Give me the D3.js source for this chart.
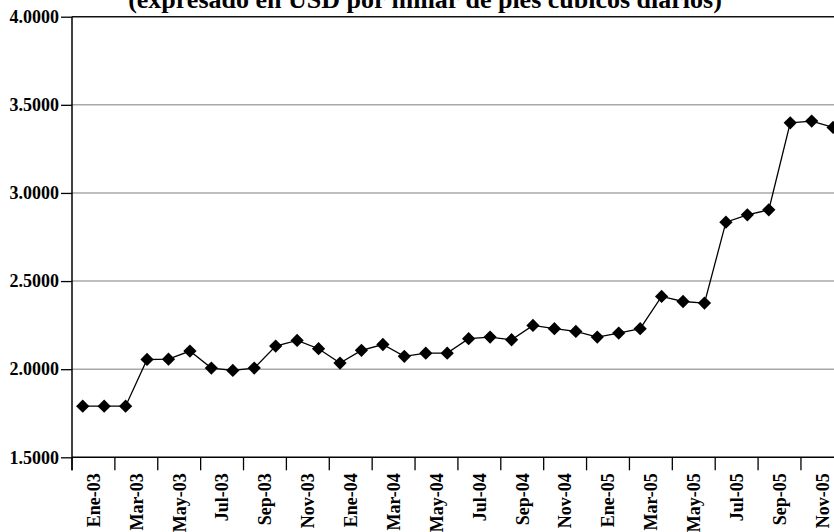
<!DOCTYPE html>
<html>
<head>
<meta charset="utf-8">
<script src="https://cdn.jsdelivr.net/npm/d3@7/dist/d3.min.js"></script>
<style>
  html, body { margin: 0; padding: 0; background: #fff; }
  svg { display: block; }
  text { font-family: "Liberation Serif", "Times New Roman", serif; font-weight: bold; fill: #000; }
</style>
</head>
<body>
<svg id="chart" width="834" height="532"></svg>
<script>
// Precio mensual del gas natural, USD por millar de pies cúbicos diarios
const months = [
  "Ene-03","Feb-03","Mar-03","Abr-03","May-03","Jun-03","Jul-03","Ago-03","Sep-03","Oct-03","Nov-03","Dic-03",
  "Ene-04","Feb-04","Mar-04","Abr-04","May-04","Jun-04","Jul-04","Ago-04","Sep-04","Oct-04","Nov-04","Dic-04",
  "Ene-05","Feb-05","Mar-05","Abr-05","May-05","Jun-05","Jul-05","Ago-05","Sep-05","Oct-05","Nov-05","Dic-05"
];
const prices = [
  1.790, 1.790, 1.790, 2.055, 2.057, 2.103, 2.006, 1.993, 2.006, 2.131, 2.163, 2.116,
  2.035, 2.107, 2.140, 2.073, 2.091, 2.091, 2.173, 2.182, 2.167, 2.248, 2.230, 2.214,
  2.182, 2.205, 2.230, 2.413, 2.384, 2.375, 2.834, 2.876, 2.904, 3.398, 3.408, 3.372
];
const yTicks = [1.5, 2.0, 2.5, 3.0, 3.5, 4.0];
// Every second month carries a label
const xTickLabels = months.filter((m, i) => i % 2 === 0);
const subtitle = "(expresado en USD por millar de pies cúbicos diarios)";

const svg = d3.select("#chart");
const plotLeft = 72, plotTop = 16.7, plotBottom = 457.3, monthStep = 21.44;

const x = d3.scaleBand().domain(months).range([plotLeft, plotLeft + monthStep * months.length]).padding(0);
const xGroup = d3.scaleBand().domain(xTickLabels).range([plotLeft, plotLeft + monthStep * months.length]).padding(0);
const y = d3.scaleLinear().domain([1.5, 4.0]).range([plotBottom, plotTop]);

// Subtitle (only its lower part falls inside the view)
svg.append("text")
  .attr("x", 425).attr("y", 8)
  .attr("text-anchor", "middle")
  .style("font-size", "26px")
  .text(subtitle);

// Horizontal gridlines
svg.append("g").selectAll("line")
  .data(yTicks.filter(v => v > 1.5 && v < 4.0))
  .join("line")
  .attr("x1", plotLeft).attr("x2", 834)
  .attr("y1", d => y(d)).attr("y2", d => y(d))
  .attr("stroke", "#a8a8a8").attr("stroke-width", 1.5);

// Top border of the plot area
svg.append("line")
  .attr("x1", plotLeft).attr("x2", 834)
  .attr("y1", y(4.0)).attr("y2", y(4.0))
  .attr("stroke", "#111").attr("stroke-width", 1.5);

// Y axis
const yAxis = d3.axisLeft(y).tickValues(yTicks).tickFormat(d3.format(".4f")).tickSize(11).tickPadding(2);
const gy = svg.append("g").attr("transform", `translate(${plotLeft},0)`).call(yAxis);
gy.select(".domain").attr("stroke", "#000").attr("stroke-width", 1.5).attr("d", `M0,${plotTop}V${plotBottom + 13}`);
gy.selectAll(".tick line").attr("stroke", "#000").attr("stroke-width", 1.3);
gy.selectAll(".tick text").style("font-size", "18px").style("font-family", '"Liberation Serif", serif').style("font-weight", "bold");

// X axis: tick marks between each pair of months, labels centred on each pair
const gx = svg.append("g").attr("transform", `translate(0,${plotBottom})`);
gx.append("line").attr("x1", plotLeft).attr("x2", 834).attr("y1", 0).attr("y2", 0)
  .attr("stroke", "#000").attr("stroke-width", 1.5);
gx.selectAll("line.tk")
  .data(xTickLabels.concat(["__end"]))
  .join("line").attr("class", "tk")
  .attr("x1", (d, i) => plotLeft + i * xGroup.bandwidth())
  .attr("x2", (d, i) => plotLeft + i * xGroup.bandwidth())
  .attr("y1", 0).attr("y2", 13)
  .attr("stroke", "#000").attr("stroke-width", 1.3);
const xAxis = d3.axisBottom(xGroup).tickSize(0).tickPadding(0);
const gxl = gx.append("g").call(xAxis);
gxl.select(".domain").remove();
gxl.selectAll(".tick text")
  .attr("transform", "rotate(-90)")
  .attr("x", -16).attr("y", 0).attr("dy", "0.35em")
  .attr("text-anchor", "end")
  .style("font-size", "18px").style("font-family", '"Liberation Serif", serif').style("font-weight", "bold");

// Price line
const line = d3.line()
  .x((d, i) => x(months[i]) + x.bandwidth() / 2)
  .y(d => y(d));
svg.append("path").datum(prices)
  .attr("d", line)
  .attr("fill", "none").attr("stroke", "#000").attr("stroke-width", 1.3);

// Diamond markers
const sym = d3.symbol().type(d3.symbolSquare).size(88);
svg.append("g").selectAll("path")
  .data(prices)
  .join("path")
  .attr("d", sym)
  .attr("transform", (d, i) => `translate(${x(months[i]) + x.bandwidth() / 2},${y(d)}) rotate(45)`)
  .attr("fill", "#000");
</script>
</body>
</html>
